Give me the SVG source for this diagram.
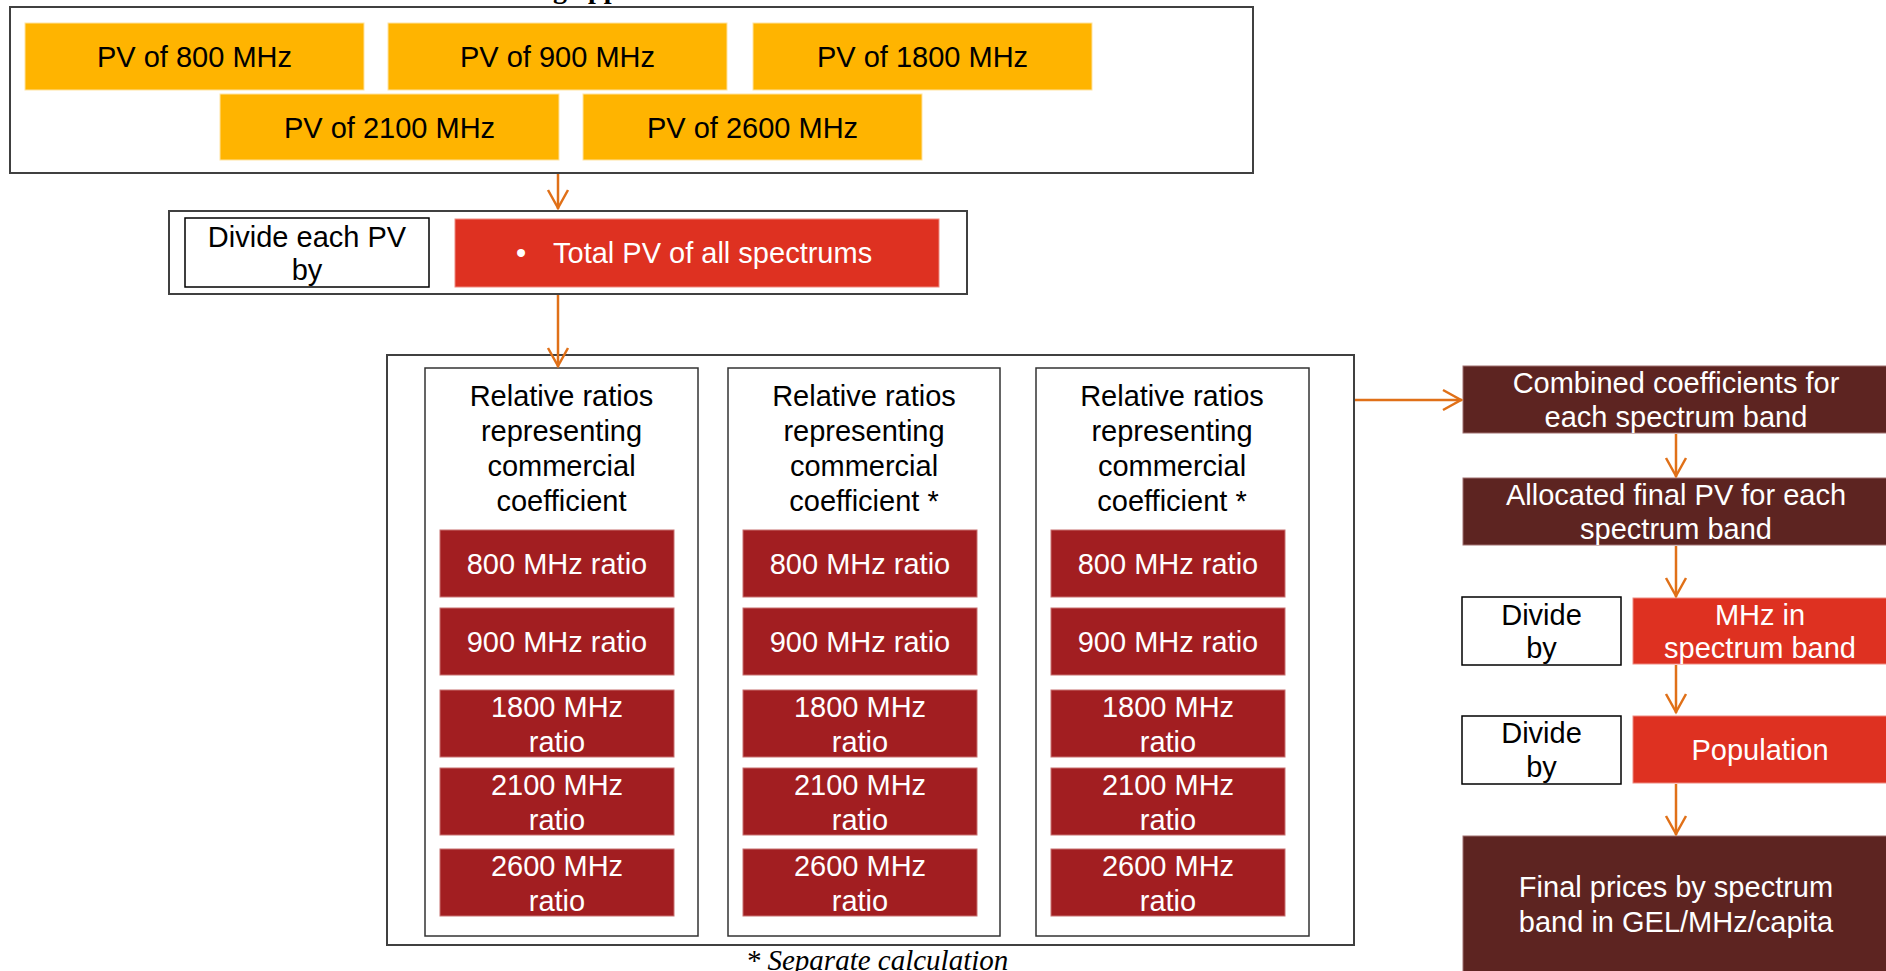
<svg xmlns="http://www.w3.org/2000/svg" width="1886" height="971" viewBox="0 0 1886 971">
<defs>
<style>
.t{font-family:"Liberation Sans",Arial,sans-serif;font-size:29px;text-anchor:middle}
.w{fill:#ffffff}
.k{fill:#000000}
.frame{fill:#ffffff;stroke:#404040;stroke-width:2}
.inner{fill:#ffffff;stroke:#333333;stroke-width:1.5}
.pv{fill:#FFB400;stroke:#FFE3A0;stroke-width:1}
.ratio{fill:#A21E21;stroke:#C87070;stroke-width:1}
.bright{fill:#DE3121;stroke:#EE8A80;stroke-width:1}
.dark{fill:#5D2421;stroke:#A07070;stroke-width:1}
.conn{stroke:#E07018;stroke-width:2.5;fill:none}
</style>
<marker id="arr" markerUnits="userSpaceOnUse" markerWidth="24" markerHeight="24" viewBox="0 -12 22 24" refX="20" refY="0" orient="auto">
<path d="M1,-10 L19,0 L1,10" fill="none" stroke="#E07018" stroke-width="2.5"/>
</marker>
</defs>

<text x="480" y="-2" style="font-family:'Liberation Serif','Times New Roman',serif;font-size:28px;font-weight:bold">Pricing approach</text>

<g id="pv-group">
<rect class="frame" x="10" y="7" width="1243" height="166"/>
<g id="pv800"><rect class="pv" x="25" y="23" width="339" height="67"/><text class="t k" x="194.5" y="67">PV of 800 MHz</text></g>
<g id="pv900"><rect class="pv" x="388" y="23" width="339" height="67"/><text class="t k" x="557.5" y="67">PV of 900 MHz</text></g>
<g id="pv1800"><rect class="pv" x="753" y="23" width="339" height="67"/><text class="t k" x="922.5" y="67">PV of 1800 MHz</text></g>
<g id="pv2100"><rect class="pv" x="220" y="94" width="339" height="66"/><text class="t k" x="389.5" y="137.5">PV of 2100 MHz</text></g>
<g id="pv2600"><rect class="pv" x="583" y="94" width="339" height="66"/><text class="t k" x="752.5" y="137.5">PV of 2600 MHz</text></g>
</g>

<g id="divide-total">
<rect class="frame" x="169" y="211" width="798" height="83"/>
<g id="divide-each"><rect x="185" y="218" width="244" height="69" fill="#ffffff" stroke="#000" stroke-width="1.5"/>
<text class="t k" x="307" y="247">Divide each PV</text><text class="t k" x="307" y="280">by</text></g>
<g id="total-pv"><rect class="bright" x="455" y="219" width="484" height="68"/>
<text x="521" y="263" class="w" style="font-family:'Liberation Sans',Arial,sans-serif;font-size:29px;text-anchor:middle">•</text>
<text x="553" y="263" class="w" style="font-family:'Liberation Sans',Arial,sans-serif;font-size:29px">Total PV of all spectrums</text></g>
</g>

<g id="ratios">
<rect class="frame" x="387" y="355" width="967" height="590"/>
<g id="col1">
<rect class="inner" x="425" y="368" width="273" height="568"/>
<text class="t k" x="561.5" y="406">Relative ratios</text>
<text class="t k" x="561.5" y="441">representing</text>
<text class="t k" x="561.5" y="476">commercial</text>
<text class="t k" x="561.5" y="511">coefficient</text>
<rect class="ratio" x="440" y="530" width="234" height="67"/><text class="t w" x="557" y="573.5">800 MHz ratio</text>
<rect class="ratio" x="440" y="608" width="234" height="67"/><text class="t w" x="557" y="651.5">900 MHz ratio</text>
<rect class="ratio" x="440" y="690" width="234" height="67"/><text class="t w" x="557" y="716.5">1800 MHz</text><text class="t w" x="557" y="751.5">ratio</text>
<rect class="ratio" x="440" y="768" width="234" height="67"/><text class="t w" x="557" y="794.5">2100 MHz</text><text class="t w" x="557" y="829.5">ratio</text>
<rect class="ratio" x="440" y="849" width="234" height="67"/><text class="t w" x="557" y="875.5">2600 MHz</text><text class="t w" x="557" y="910.5">ratio</text>
</g>
<g id="col2">
<rect class="inner" x="728" y="368" width="272" height="568"/>
<text class="t k" x="864" y="406">Relative ratios</text>
<text class="t k" x="864" y="441">representing</text>
<text class="t k" x="864" y="476">commercial</text>
<text class="t k" x="864" y="511">coefficient *</text>
<rect class="ratio" x="743" y="530" width="234" height="67"/><text class="t w" x="860" y="573.5">800 MHz ratio</text>
<rect class="ratio" x="743" y="608" width="234" height="67"/><text class="t w" x="860" y="651.5">900 MHz ratio</text>
<rect class="ratio" x="743" y="690" width="234" height="67"/><text class="t w" x="860" y="716.5">1800 MHz</text><text class="t w" x="860" y="751.5">ratio</text>
<rect class="ratio" x="743" y="768" width="234" height="67"/><text class="t w" x="860" y="794.5">2100 MHz</text><text class="t w" x="860" y="829.5">ratio</text>
<rect class="ratio" x="743" y="849" width="234" height="67"/><text class="t w" x="860" y="875.5">2600 MHz</text><text class="t w" x="860" y="910.5">ratio</text>
</g>
<g id="col3">
<rect class="inner" x="1036" y="368" width="273" height="568"/>
<text class="t k" x="1172" y="406">Relative ratios</text>
<text class="t k" x="1172" y="441">representing</text>
<text class="t k" x="1172" y="476">commercial</text>
<text class="t k" x="1172" y="511">coefficient *</text>
<rect class="ratio" x="1051" y="530" width="234" height="67"/><text class="t w" x="1168" y="573.5">800 MHz ratio</text>
<rect class="ratio" x="1051" y="608" width="234" height="67"/><text class="t w" x="1168" y="651.5">900 MHz ratio</text>
<rect class="ratio" x="1051" y="690" width="234" height="67"/><text class="t w" x="1168" y="716.5">1800 MHz</text><text class="t w" x="1168" y="751.5">ratio</text>
<rect class="ratio" x="1051" y="768" width="234" height="67"/><text class="t w" x="1168" y="794.5">2100 MHz</text><text class="t w" x="1168" y="829.5">ratio</text>
<rect class="ratio" x="1051" y="849" width="234" height="67"/><text class="t w" x="1168" y="875.5">2600 MHz</text><text class="t w" x="1168" y="910.5">ratio</text>
</g>
</g>

<text x="877" y="970" style="font-family:'Liberation Serif','Times New Roman',serif;font-size:29px;font-style:italic;text-anchor:middle">* Separate calculation</text>

<g id="combined"><rect class="dark" x="1463" y="366" width="427" height="67"/>
<text class="t w" x="1676" y="392.5">Combined coefficients for</text><text class="t w" x="1676" y="426.5">each spectrum band</text></g>

<g id="allocated"><rect class="dark" x="1463" y="478" width="427" height="67"/>
<text class="t w" x="1676" y="504.5">Allocated final PV for each</text><text class="t w" x="1676" y="538.5">spectrum band</text></g>

<g id="divide-mhz"><rect x="1462" y="597" width="159" height="68" fill="#fff" stroke="#000" stroke-width="1.5"/>
<text class="t k" x="1541.5" y="625">Divide</text><text class="t k" x="1541.5" y="658">by</text></g>
<g id="mhz"><rect class="bright" x="1633" y="598" width="257" height="66"/>
<text class="t w" x="1760" y="625">MHz in</text><text class="t w" x="1760" y="658">spectrum band</text></g>

<g id="divide-pop"><rect x="1462" y="716" width="159" height="68" fill="#fff" stroke="#000" stroke-width="1.5"/>
<text class="t k" x="1541.5" y="743">Divide</text><text class="t k" x="1541.5" y="777">by</text></g>
<g id="population"><rect class="bright" x="1633" y="716" width="257" height="67"/>
<text class="t w" x="1760" y="760">Population</text></g>

<g id="final"><rect class="dark" x="1463" y="836" width="427" height="140"/>
<text class="t w" x="1676" y="897">Final prices by spectrum</text><text class="t w" x="1676" y="932">band in GEL/MHz/capita</text></g>

<g id="connectors">
<line class="conn" x1="558" y1="174" x2="558" y2="209" marker-end="url(#arr)"/>
<line class="conn" x1="558" y1="295" x2="558" y2="367" marker-end="url(#arr)"/>
<line class="conn" x1="1355" y1="400" x2="1462" y2="400" marker-end="url(#arr)"/>
<line class="conn" x1="1676" y1="434" x2="1676" y2="477" marker-end="url(#arr)"/>
<line class="conn" x1="1676" y1="546" x2="1676" y2="597" marker-end="url(#arr)"/>
<line class="conn" x1="1676" y1="665" x2="1676" y2="713" marker-end="url(#arr)"/>
<line class="conn" x1="1676" y1="784" x2="1676" y2="835" marker-end="url(#arr)"/>
</g>
</svg>
